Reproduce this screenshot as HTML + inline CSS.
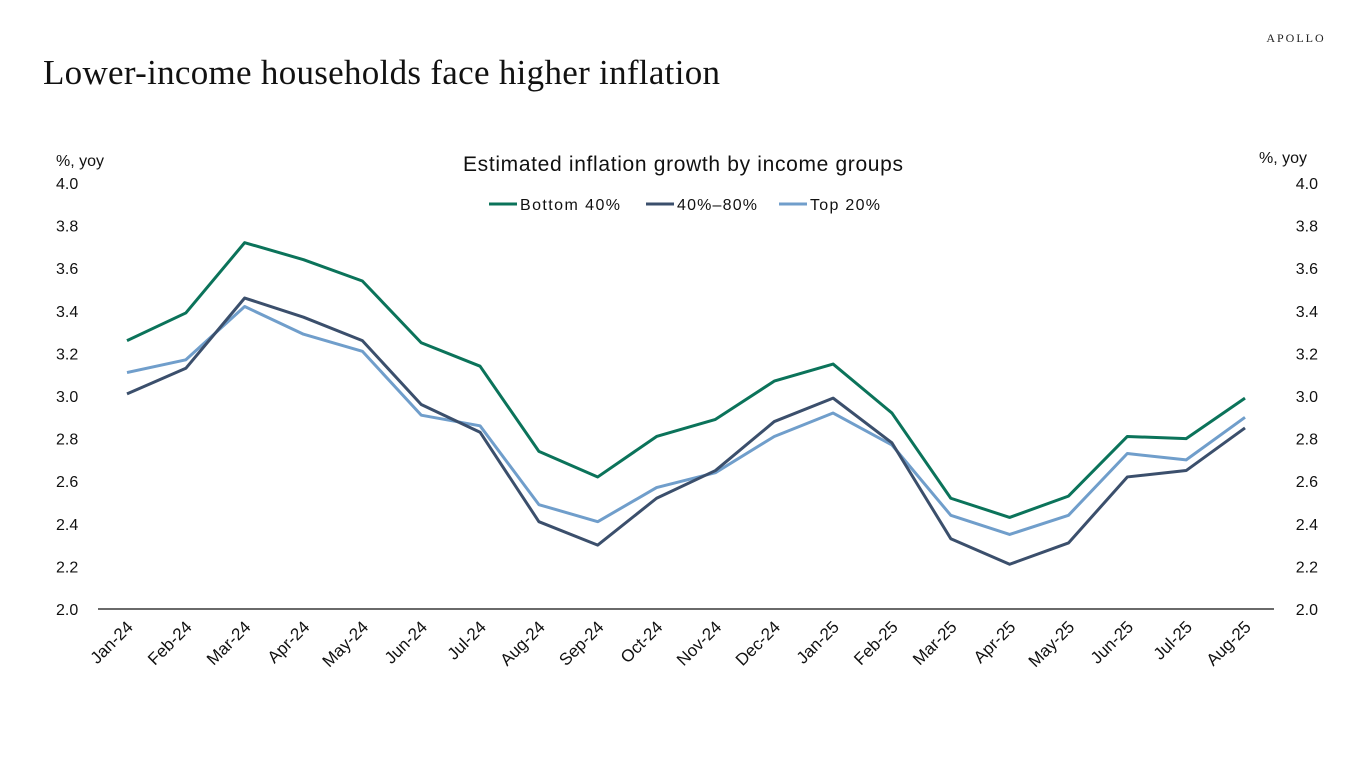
<!DOCTYPE html>
<html><head><meta charset="utf-8"><style>
body{margin:0;background:#fff;width:1366px;height:768px;overflow:hidden;font-family:"Liberation Sans",sans-serif}
svg{position:absolute;left:0;top:0}
</style></head><body>
<svg width="1366" height="768" id="c">
<text x="1296" y="42" font-family="Liberation Serif,serif" font-size="12" letter-spacing="2" text-anchor="middle" fill="#222">APOLLO</text>
<text x="43" y="84" font-family="Liberation Serif,serif" font-size="35" textLength="677" fill="#111">Lower-income households face higher inflation</text>
<text x="463" y="171" font-size="21" textLength="440" fill="#111">Estimated inflation growth by income groups</text>
<text x="56" y="166" font-size="16" fill="#111">%, yoy</text>
<text x="1307" y="163" font-size="16" text-anchor="end" fill="#111">%, yoy</text>
<g id="legend"></g>
<g id="axes"></g>
<g id="lines"></g>
</svg>
<script>
const categories=["Jan-24","Feb-24","Mar-24","Apr-24","May-24","Jun-24","Jul-24","Aug-24","Sep-24","Oct-24","Nov-24","Dec-24","Jan-25","Feb-25","Mar-25","Apr-25","May-25","Jun-25","Jul-25","Aug-25"];
const bottom40=[3.26,3.39,3.72,3.64,3.54,3.25,3.14,2.74,2.62,2.81,2.89,3.07,3.15,2.92,2.52,2.43,2.53,2.81,2.80,2.99];
const mid4080=[3.01,3.13,3.46,3.37,3.26,2.96,2.83,2.41,2.30,2.52,2.65,2.88,2.99,2.78,2.33,2.21,2.31,2.62,2.65,2.85];
const top20=[3.11,3.17,3.42,3.29,3.21,2.91,2.86,2.49,2.41,2.57,2.64,2.81,2.92,2.77,2.44,2.35,2.44,2.73,2.70,2.90];
const yTicks=["2.0","2.2","2.4","2.6","2.8","3.0","3.2","3.4","3.6","3.8","4.0"];
const seriesNames=["Bottom 40%","40%\u201380%","Top 20%"];
const NS="http://www.w3.org/2000/svg";
const y=v=>609-(v-2)*213;
const x=i=>127+i*(1245-127)/(categories.length-1);
function mk(t,a,p){const e=document.createElementNS(NS,t);for(const k in a)e.setAttribute(k,a[k]);p.appendChild(e);return e;}
const ax=document.getElementById('axes');
const base=mk('line',{x1:98,x2:1274,y1:609,y2:609,stroke:'#111','stroke-width':1.3},ax);


yTicks.forEach(t=>{
 const l=mk('text',{x:56,y:y(+t)+6,'font-size':16,fill:'#111'},ax);l.textContent=t;
 
 
 const r=mk('text',{x:1318,y:y(+t)+6,'font-size':16,fill:'#111','text-anchor':'end'},ax);r.textContent=t;
 
 
});
categories.forEach((c,i)=>{
 const t=mk('text',{x:x(i)+7,y:628,'font-size':17,fill:'#111','text-anchor':'end',transform:`rotate(-45 ${x(i)+7} 628)`},ax);t.textContent=c;
 
 
});
const colors=["#0b735a","#3b4f6c","#709ecb"];
const data=[bottom40,mid4080,top20];
const lg=document.getElementById('lines');
[2,1,0].forEach(s=>{
 const p=mk('polyline',{points:data[s].map((v,i)=>x(i)+','+y(v)).join(' '),fill:'none',stroke:colors[s],'stroke-width':3,'stroke-linejoin':'round'},lg);
 
 
});
const leg=document.getElementById('legend');
const lx=[489,646,779];
const lw=[100,80,70];
seriesNames.forEach((n,s)=>{
 const g=mk('g',{},leg);
 
 
 mk('line',{x1:lx[s],x2:lx[s]+28,y1:204,y2:204,stroke:colors[s],'stroke-width':3},g);
 const t=mk('text',{x:lx[s]+31,y:210,'font-size':16,fill:'#111',textLength:lw[s]},g);t.textContent=n;
});
</script>
</body></html>
